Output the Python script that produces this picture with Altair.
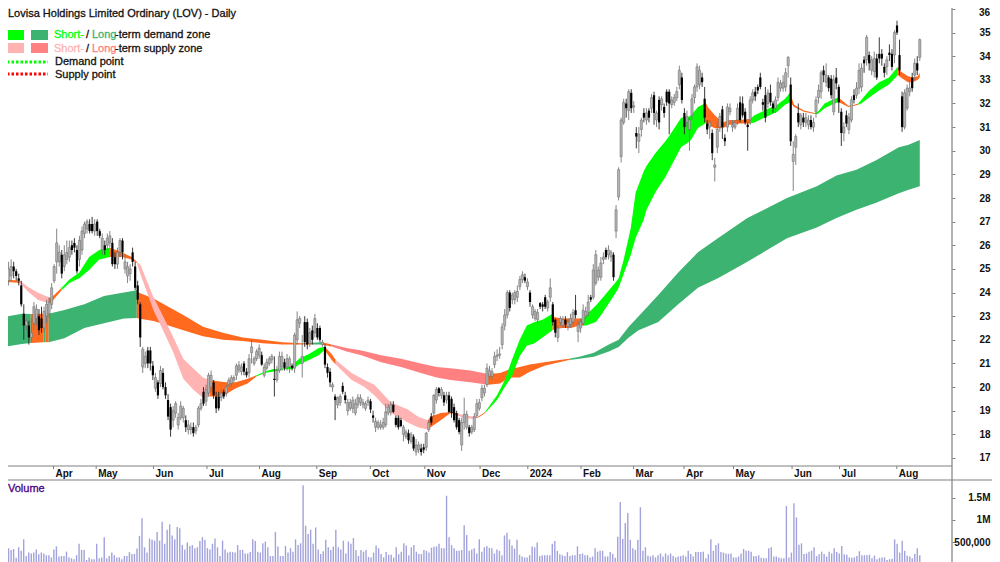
import altair as alt
import pandas as pd

# ---------- price bars: (open, close, low, high) ----------
bars_mar23 = [(24.0,24.5,23.7,24.9),(24.5,25.0,24.3,25.3),(24.7,25.1,24.5,25.4),(25.1,24.9,24.6,25.3),(24.9,24.7,24.5,25.0),
(24.6,24.5,24.3,24.8),(24.3,23.5,23.4,24.5),(23.1,22.6,22.0,23.5),(22.6,22.8,22.4,22.9),(22.6,22.1,21.8,22.8),
(22.1,22.3,21.9,22.9),(22.7,23.4,22.4,23.6),(22.9,23.3,22.6,23.5),(23.0,22.4,22.2,23.3),(22.9,22.5,22.3,23.4),
(22.5,23.2,22.3,23.4),(23.0,23.5,22.7,23.7),(23.1,23.6,22.9,23.8),(23.5,24.2,23.3,24.4),(24.5,25.1,24.4,25.2)]
bars_apr23 = [(25.3,26.1,24.8,26.7),(25.3,25.7,25.1,26.0),(25.6,24.8,24.6,25.8),(25.1,25.6,24.9,26.0),(25.4,25.7,25.2,26.2),
(25.5,25.9,25.3,26.2),(26.0,25.8,25.6,26.2),(26.1,25.9,25.7,26.3),(25.8,24.9,24.8,26.0),(25.4,26.2,25.1,26.4),
(25.8,26.6,25.6,26.8),(26.5,26.9,26.3,27.0),(26.7,27.0,26.5,27.1),(26.9,26.6,26.5,27.1),(26.9,26.6,26.5,27.2)]
bars_may23 = [(26.6,26.9,26.4,27.1),(27.0,26.6,26.4,27.1),(26.6,26.4,26.3,26.7),(25.8,26.3,25.6,26.5),(26.0,25.8,25.6,26.2),
(26.0,26.3,25.8,26.5),(26.1,26.4,25.9,26.6),(26.1,25.2,25.1,26.3),(25.5,25.2,25.0,25.7),(25.2,25.7,25.0,25.9),
(25.7,26.2,25.5,26.3),(26.2,25.7,25.4,26.3),(25.0,25.3,24.8,25.6),(24.7,25.1,24.4,25.3),(24.8,25.0,24.5,25.2),
(25.7,25.3,25.1,25.9),(25.1,24.2,24.1,25.3),(24.3,23.7,23.5,24.5),(23.5,22.1,21.7,23.6),(20.85,21.6,20.6,21.7),
(21.0,21.3,20.8,21.5),(21.55,21.0,20.8,21.7),(21.55,21.0,20.7,21.7),(20.9,20.5,20.3,21.1),(19.95,20.4,19.8,20.6)]
bars_jun23 = [(20.2,19.65,19.5,20.3),(20.15,20.7,20.0,20.9),(20.6,20.0,19.9,20.8),(20.0,19.65,19.5,20.2),(19.45,18.75,18.6,19.7),
(19.15,18.2,17.9,19.3),(18.6,19.0,18.3,19.2),(18.9,19.3,18.7,19.4),(18.4,18.7,18.2,18.9),(18.7,19.2,18.6,19.4),
(18.7,19.1,18.5,19.2),(18.6,18.3,18.1,18.8),(18.2,18.4,18.0,18.6),(18.2,18.3,18.0,18.5),(18.3,18.05,17.9,18.5),
(18.15,18.3,18.0,18.4),(18.4,19.1,18.3,19.2),(19.1,19.3,19.0,19.5),(19.8,19.3,19.2,20.0),(19.4,19.9,19.2,20.1),
(19.75,20.5,19.6,20.6),(20.0,20.5,19.8,20.7)]
bars_jul23 = [(20.2,19.65,19.5,20.3),(19.6,19.1,18.9,19.8),(19.6,19.1,19.0,19.8),(19.55,19.75,19.4,19.9),(19.8,19.6,19.5,19.9),
(19.75,20.0,19.6,20.1),(20.1,20.3,20.0,20.4),(20.15,20.4,20.0,20.5),(20.3,20.4,20.2,20.5),(20.5,20.9,20.3,21.0),
(20.72,20.93,20.6,21.1),(20.65,20.85,20.5,21.0),(21.0,20.65,20.5,21.1),(20.65,20.5,20.4,20.8),(20.6,21.2,20.4,21.4),
(21.45,21.7,21.0,22.0),(21.0,21.2,20.9,21.3),(21.2,21.5,21.1,21.6),(21.35,21.65,21.2,21.8),(21.35,20.95,20.9,21.5),(20.5,20.85,20.4,21.0)]
bars_aug23 = [(20.8,21.05,20.7,21.2),(21.0,21.2,20.9,21.3),(21.15,21.3,21.0,21.4),(20.35,20.3,19.6,21.3),(20.3,20.7,20.2,20.9),
(20.7,21.3,20.6,21.5),(20.85,21.3,20.7,21.5),(21.05,20.8,20.7,21.2),(20.85,21.2,20.7,21.4),(20.85,21.2,20.6,21.3),
(20.9,20.8,20.7,21.0),(20.8,22.2,20.6,22.3),(22.0,22.85,21.8,23.2),(22.7,22.9,22.5,23.0),(21.0,21.3,20.4,22.2),
(22.75,21.9,21.7,23.0),(22.75,21.8,21.6,22.9),(21.85,22.3,21.7,22.5),(22.4,22.0,21.8,22.6),(22.3,22.9,22.1,23.1),
(22.5,22.1,22.0,22.7),(22.5,22.0,21.9,22.6),(21.8,21.9,21.7,22.0)]
bars_sep23 = [(21.7,20.95,20.8,21.8),(20.85,20.6,20.4,21.0),(20.65,20.2,20.0,20.8),(20.0,20.1,19.8,20.2),(19.6,19.45,18.6,19.7),
(19.25,19.55,19.1,19.6),(19.35,19.6,19.2,19.7),(20.05,19.8,19.7,20.2),(19.65,19.45,19.3,19.8),(19.0,19.35,18.8,19.5),
(19.1,19.35,19.0,19.5),(19.1,19.45,18.9,19.6),(18.9,19.3,18.8,19.5),(19.25,19.55,19.1,19.7),(19.35,19.55,19.2,19.7),
(19.25,19.35,19.1,19.5),(19.1,19.3,19.0,19.4),(19.35,19.45,19.2,19.6),(19.4,19.05,18.9,19.5),(18.8,18.7,18.5,19.0),(18.3,18.55,18.1,18.7)]
bars_oct23 = [(18.3,18.5,18.2,18.6),(18.3,18.4,18.2,18.6),(18.3,18.5,18.2,18.7),(18.4,18.95,18.3,19.3),(18.9,19.15,18.8,19.3),
(18.95,19.25,18.8,19.4),(19.25,18.95,18.9,19.4),(18.7,18.4,18.3,18.8),(18.7,18.3,18.2,18.8),(18.6,18.35,18.3,18.7),
(18.0,18.3,17.7,18.4),(17.9,18.1,17.8,18.2),(18.05,17.75,17.6,18.2),(17.7,18.0,17.6,18.1),(17.9,17.4,17.3,18.0),
(17.25,17.55,17.1,17.8),(17.35,17.55,17.2,17.7),(17.4,17.25,17.1,17.6),(17.45,17.35,17.2,17.6),(17.45,18.05,17.3,18.1),
(18.2,18.5,18.1,18.6),(18.75,18.5,18.4,18.9)]
bars_nov23 = [(18.9,19.65,18.7,19.7),(19.45,19.9,19.3,20.0),(19.95,19.75,19.6,20.0),(19.65,19.9,19.5,20.0),(19.65,19.35,19.2,19.8),
(19.45,19.65,19.3,19.8),(19.65,18.95,18.9,19.8),(19.5,18.9,18.7,19.6),(19.15,18.6,18.5,19.3),(18.9,18.3,18.2,19.0),
(18.6,18.1,18.0,18.7),(17.55,18.5,17.3,18.7),(18.5,18.85,18.2,19.55),(18.3,18.85,18.2,19.0),(18.3,18.05,17.9,18.4),
(18.1,18.3,18.0,18.4),(18.2,18.75,18.1,18.9),(18.8,19.3,18.7,19.5),(19.1,19.35,19.0,19.5),(19.55,19.95,19.4,20.1),
(19.75,19.95,19.6,20.1),(20.1,20.8,20.0,21.0)]
bars_dec23 = [(20.45,20.7,20.3,20.9),(20.45,20.65,20.3,20.8),(20.95,21.3,20.8,21.5),(21.3,21.35,21.1,21.6),(21.35,21.4,21.2,21.7),
(21.8,22.55,21.6,22.7),(22.6,23.05,22.4,23.3),(23.05,24.0,22.9,24.1),(24.0,23.35,23.2,24.1),(23.7,23.9,23.5,24.0),
(23.7,24.0,23.5,24.1),(23.8,24.05,23.6,24.3),(24.25,24.55,24.1,24.7),(24.55,24.75,24.4,24.9),(24.65,24.5,24.4,24.8),
(24.25,24.45,24.1,24.6),(24.0,23.6,23.4,24.1),(23.05,23.4,22.9,23.5),(22.9,23.2,22.8,23.3)]
bars_jan24 = [(22.85,23.15,22.7,23.3),(23.55,23.4,23.3,23.6),(23.5,23.4,23.2,23.6),(23.8,23.4,23.3,23.9),(23.35,23.6,23.2,23.7),
(23.8,24.2,23.6,24.6),(23.5,22.75,22.6,23.6),(22.85,22.3,22.1,22.9),(22.1,22.5,21.9,22.6),(22.75,22.9,22.6,23.0),
(22.6,22.85,22.5,23.0),(22.85,22.65,22.5,23.0),(22.55,22.75,22.4,22.9),(22.65,22.9,22.5,23.1),(22.75,23.15,22.6,23.3),
(23.25,23.05,22.9,23.9),(22.35,22.65,21.9,22.8),(22.5,22.75,22.3,22.9),(22.7,23.25,22.6,23.5),(23.0,23.2,22.9,23.4),(23.15,23.6,23.0,23.9)]
bars_feb24 = [(23.8,23.7,23.6,23.9),(23.8,24.95,23.7,25.2),(24.4,25.6,24.3,25.8),(24.65,24.95,24.5,25.1),(24.65,25.25,24.5,25.5),
(25.4,25.5,25.2,25.7),(25.8,25.5,25.4,25.9),(25.6,25.8,25.4,26.0),(25.5,25.7,25.3,25.8),(25.6,24.65,24.5,25.7),
(26.6,27.5,26.3,27.7),(28.05,29.2,27.9,29.3),(29.75,31.3,29.5,31.4),(31.2,32.05,31.1,32.2),(32.0,31.8,31.4,32.2),
(31.7,32.5,31.3,32.6),(32.45,31.8,31.6,32.6),(31.85,31.9,31.6,32.1),(30.75,30.6,30.1,31.0),(30.4,30.7,29.9,31.0)]
bars_mar24 = [(30.9,31.3,30.6,31.4),(31.6,31.4,31.2,31.8),(31.3,31.6,31.1,31.8),(31.7,31.4,31.2,31.8),(31.8,32.25,31.6,32.4),
(32.35,31.6,31.1,32.5),(31.3,31.6,31.0,31.7),(32.15,31.2,30.9,32.3),(31.95,32.2,31.7,32.3),(31.85,31.6,31.4,32.0),
(32.5,32.05,31.9,32.6),(32.5,32.0,30.7,32.6),(31.95,32.15,31.8,32.3),(32.05,32.25,31.9,32.4),(32.25,32.5,32.1,32.7),
(32.8,33.4,32.6,33.6),(33.1,32.15,32.0,33.3),(31.6,31.0,30.7,31.8),(31.2,31.45,31.0,31.7),(30.9,31.3,30.0,31.4)]
bars_apr24 = [(31.5,32.2,31.3,32.4),(32.25,32.7,32.0,32.8),(32.7,33.55,32.5,33.7),(32.8,33.4,32.6,33.6),(33.1,32.9,32.7,33.3),
(32.2,31.4,31.2,32.7),(31.15,30.9,30.7,31.3),(31.0,31.2,30.5,31.3),(30.75,29.9,29.6,30.9),(29.3,29.4,28.7,29.7),
(30.15,30.9,29.9,31.2),(31.0,31.45,30.8,31.6),(31.75,31.0,30.5,31.9),(30.55,30.4,30.2,30.7),(31.0,31.85,30.8,32.0),
(31.65,31.8,31.5,32.0),(31.0,31.1,30.8,31.3),(31.0,31.2,30.9,31.3),(31.3,31.8,31.1,32.0),(32.05,31.3,31.2,32.3)]
bars_may24 = [(32.0,31.5,31.4,32.3),(31.65,31.2,31.1,31.8),(31.1,31.0,30.0,31.2),(31.3,32.15,31.1,32.3),(32.15,32.45,32.0,32.6),
(32.5,32.3,32.1,32.7),(32.7,32.55,32.4,32.8),(33.1,32.7,32.6,33.3),(32.05,31.95,31.7,32.2),(32.35,31.4,31.2,32.7),
(32.0,32.45,31.8,32.6),(32.45,32.05,31.9,32.8),(32.0,31.8,31.6,32.1),(31.8,32.15,31.6,32.3),(32.25,32.9,32.1,33.1),
(32.65,32.85,32.5,33.0),(32.65,32.9,32.5,33.2),(32.7,33.3,32.5,33.5),(33.6,33.95,33.1,34.0),(32.8,30.4,30.2,33.1),
(29.55,29.85,28.3,30.4),(30.15,30.6,29.4,30.7)]
bars_jun24 = [(31.6,31.2,31.0,32.0),(31.1,31.5,30.9,31.6),(31.4,31.2,31.0,31.6),(31.2,31.4,31.0,31.6),(31.1,31.3,30.9,31.5),
(31.3,31.0,30.9,31.5),(31.0,31.2,30.8,31.4),(31.65,32.15,31.4,32.3),(32.25,32.55,32.0,32.8),(32.5,33.3,32.2,33.4),
(33.4,33.2,32.9,33.6),(32.9,33.2,32.7,33.7),(33.1,32.65,32.5,33.2),(33.05,32.35,32.2,33.2),(31.65,33.0,31.5,33.2),
(33.1,32.85,32.6,33.5),(32.7,32.05,31.6,32.8),(31.65,30.75,30.2,31.8),(30.75,31.0,30.4,31.2)]
bars_jul24 = [(31.5,31.15,31.0,31.7),(30.9,31.4,30.7,31.6),(31.3,32.15,31.2,32.3),(32.35,32.15,32.0,32.6),(32.35,32.65,32.2,32.9),
(32.65,33.4,32.4,33.7),(32.7,33.5,32.5,33.7),(33.85,33.7,33.3,34.0),(33.85,34.8,33.6,34.9),(34.05,33.7,33.4,34.2),
(33.4,33.85,33.2,34.0),(33.35,33.9,33.1,34.2),(33.9,33.1,33.0,34.1),(34.1,33.9,33.7,34.8),(34.1,33.9,33.6,34.3),
(33.55,33.3,33.1,33.7),(33.55,33.85,33.2,34.0),(34.15,34.05,33.8,34.5),(34.1,33.55,33.4,34.3),(34.05,35.0,33.7,35.1),
(35.3,35.0,34.9,35.5),(34.05,33.4,33.2,34.7)]
bars_aug24 = [(32.3,31.0,30.8,32.5),(31.0,32.45,30.9,32.6),(31.8,32.65,31.7,32.8),(32.5,32.65,32.3,33.0),(33.1,32.65,32.5,33.3),
(33.2,33.7,33.0,33.9),(33.7,33.4,33.2,34.0),(33.95,34.7,33.8,34.75)]

# ---------- volume, thousands of shares ----------
vol_2023a = [130,360,320,340,140,380,300,560,180,260,240,260,330,220,260,240,200,200,150,330,400,170,180,180,280,150,130,110,200,460,320,320,90,150,110,110,460,130,150,610,130,180,260,200,150,150,110,180,180,270,230,230,350,640,1040,380,260,580,550,530,730,530,960,460,780,900,650,560,840,810]
vol_2023b = [430,330,490,410,430,360,380,520,610,550,360,330,460,580,380,180,530,330,260,280,270,260,430,320,320,240,240,270,560,520,280,260,470,510,380,180,180,730,400,180,180,410,260,360,280,560,430,470,1790,870,680,780,460,830,330,230,290,550,380,320,400,780,380,330]
vol_2023c = [530,240,510,460,590,320,180,320,280,320,160,150,260,420,360,230,150,270,210,210,150,380,220,280,470,420,200,380,430,280,230,230,320,300,260,370,390,400,460,360,360,1550,610,430,360,300,300,320,880,660,300,330,360,240,560,280,380,410,370,360,240,330,300,200]
vol_2024a = [650,710,560,420,350,550,210,170,150,150,200,400,380,490,180,200,200,200,200,460,520,300,220,200,180,270,180,200,200,400,230,240,200,200,150,170,360,280,300,300,170,170,270,230,140,620,1410,570,930,1160,550,360,320,550,1290,300,380,190,170,200,150,200,240,170,240,200]
vol_2024b = [240,180,150,170,180,200,170,300,230,170,270,270,270,280,130,220,560,300,430,470,270,260,240,230,240,150,150,170,240,340,300,300,280,180,180,200,140,130,130,360,380,170,170,150,130,130,1320,150,260,1380,1060,440,470,230,240,280,300,380,180,220,280,230,170,280,240,360,270,240,410,220,210,150,140,150,180,290,200,200,200,210,130,190,110,140,150,150,90,110,120,560,460,260,530,300,190,170,130,230,360,200]

# ---------- zones: (bar, upper, lower) ----------
long_green_1 = [(0,22.98,21.71),(6.3,23.1,21.82),(9.8,23.09,21.86)]
long_orange_1 = [(9.8,23.09,21.86),(14.9,23.1,21.9)]
long_green_2 = [(14.9,23.1,21.9),(15.7,23.1,21.9)]
long_orange_2 = [(15.7,23.1,21.9),(16.9,23.1,21.9)]
long_green_3 = [(16.9,23.1,21.9),(23.1,23.26,22.07),(31,23.5,22.5),(38.8,23.85,22.7),(46.7,24.0,22.9),(51.8,24.1,22.92)]
long_orange_3 = [(51.8,24.1,22.92),(52.5,24.0,22.9),(58.4,23.75,22.8),(64.3,23.4,22.6),(70.2,23.05,22.4),(78,22.55,22.15),(85.9,22.3,22.0),(93.7,22.1,21.95),(101.6,22.0,21.85),(109.4,21.9,21.8),(117.3,21.85,21.8),(121.2,21.88,21.8)]
long_green_4 = [(121.2,21.88,21.8),(125.1,21.9,21.8)]
long_orange_4 = [(125.1,21.9,21.8),(129,21.8,21.72)]
long_pink_1 = [(129,21.8,21.72),(134.9,21.65,21.5),(140.8,21.55,21.35),(148.6,21.35,21.05),(156.5,21.2,20.85),(164.3,21.0,20.6),(170.6,20.85,20.4),(176.1,20.8,20.3),(183.9,20.7,20.2),(191,20.55,20.1)]
long_orange_5 = [(191,20.55,20.1),(195.7,20.6,20.15),(199.6,20.75,20.4),(203.5,20.85,20.4),(207.5,20.95,20.65),(213.3,21.05,20.9),(219.2,21.15,21.05),(223.1,21.2,21.15)]
long_green_5 = [(223.1,21.2,21.15),(227.1,21.28,21.2),(232.9,21.45,21.28),(238.8,21.8,21.5),(242.7,22.0,21.7),(246.7,22.55,22.1),(250.6,23.0,22.4),(258.4,23.9,22.75),(266.3,24.85,23.5),(274.1,25.7,24.2),(282,26.3,24.6),(293.7,27.15,25.3),(309.4,28.0,26.3),(321.2,28.5,26.75),(329,28.95,27.15),(336.9,29.2,27.5),(344.7,29.6,27.8),(353.7,30.15,28.2),(357.6,30.25,28.35),(362,30.45,28.5)]
long_segments = [("dg",long_green_1),("or",long_orange_1),("dg",long_green_2),("or",long_orange_2),("dg",long_green_3),("or",long_orange_3),("dg",long_green_4),("or",long_orange_4),("rp",long_pink_1),("or",long_orange_5),("dg",long_green_5)]

short_a = [(0,24.55,24.45),(5.5,24.5,24.4)]
short_b = [(5.5,24.5,24.4),(8.6,24.25,24.05),(12.5,24.0,23.7),(16.9,23.8,23.55)]
short_c = [(16.9,23.8,23.55),(17.6,23.75,23.55),(22,24.2,24.1)]
short_d = [(22,24.2,24.1),(25.1,24.55,24.4),(29,24.85,24.6),(32.9,25.5,24.95),(36.9,25.8,25.4),(41.2,25.9,25.5)]
short_e = [(41.2,25.9,25.5),(45.9,25.7,25.5),(49.8,25.5,25.4),(51.8,25.3,25.25)]
short_f = [(51.8,25.3,25.25),(53.3,25.15,24.75),(58.4,23.8,23.25),(62.4,22.95,22.35),(66.3,22.1,21.45),(70.2,21.2,20.35),(74.1,20.8,19.9),(78,20.4,19.55),(80.8,20.3,19.6)]
short_g = [(80.8,20.3,19.6),(83.9,20.25,19.6),(87.1,20.2,19.7),(91,20.2,19.95),(95.7,20.35,20.15),(99.2,20.5,20.45)]
short_h = [(99.2,20.5,20.45),(102.4,20.65,20.6),(105.5,20.75,20.65),(110.2,20.8,20.75),(113.3,20.9,20.75),(116.1,21.2,20.95),(120,21.4,21.15),(123.9,21.65,21.35),(125.9,21.7,21.55)]
short_i = [(125.9,21.7,21.55),(126.3,21.7,21.55),(129,21.4,21.15),(130.6,21.15,20.95)]
short_j = [(130.6,21.15,20.95),(136.9,20.6,20.3),(142,20.3,20.0),(145.9,20.1,19.65),(152.5,19.35,18.9),(159.2,19.05,18.5),(163.1,18.75,18.3),(167.1,18.6,18.2)]
short_k = [(167.1,18.6,18.2),(168.2,18.75,18.3),(172.2,18.9,18.6),(176.1,18.95,18.9),(178.8,18.9,18.8)]
short_l = [(178.8,18.9,18.8),(181.2,18.8,18.7),(185.1,18.75,18.65),(187.1,18.75,18.7)]
short_m = [(187.1,18.75,18.7),(189.8,18.95,18.9)]
short_n = [(189.8,18.95,18.9),(194.5,19.65,19.45),(197.6,20.3,20.0),(200.4,21.15,20.45),(203.5,22.0,21.3),(206.3,22.6,21.75),(209.4,22.75,21.85),(212.5,22.85,22.1),(216.5,23.1,22.4)]
short_o = [(216.5,23.1,22.4),(217.3,22.95,22.45),(220.4,22.9,22.5),(223.9,22.9,22.5),(227.1,22.9,22.6),(228.6,22.9,22.6)]
short_p = [(228.6,22.9,22.6),(229.8,23.05,22.6),(233.7,23.45,22.75),(236.1,23.75,23.1),(241.6,24.45,24.0),(242.7,24.6,24.2),(244.7,25.4,24.8),(247.5,26.73,25.59),(249.4,28.21,26.31),(252.5,29.1,27.05),(253.7,29.35,27.49),(257.3,29.9,28.25),(261.2,30.4,28.89),(263.5,30.75,29.35),(267.5,31.4,30.16),(270.2,31.43,30.35),(271.4,31.5,30.46),(274.1,31.85,30.96),(277.3,32.02,31.17)]
short_q = [(277.3,32.02,31.17),(278,31.85,31.1),(280.8,31.5,30.95),(283.9,31.2,30.95),(286.7,31.3,31.1),(290.6,31.3,31.15),(294.9,31.35,31.15)]
short_r = [(294.9,31.35,31.15),(296.5,31.5,31.2),(300.4,31.7,31.4),(305.5,31.95,31.65),(308.6,32.2,31.95),(310.6,32.45,32.05)]
short_s = [(310.6,32.45,32.05),(312.2,31.95,31.85),(316.1,31.7,31.65),(320.4,31.6,31.55)]
short_t = [(320.4,31.6,31.55),(321.6,31.65,31.55),(324.3,32.0,31.8),(327.1,32.15,31.95),(329.8,32.25,32.05)]
short_u = [(329.8,32.25,32.05),(331,32.15,32.0),(333.7,31.9,31.85),(336.1,31.95,31.9),(337.6,32.0,31.95)]
short_v = [(337.6,32.0,31.95),(338.8,32.15,32.0),(342,32.55,32.25),(345.9,32.9,32.55),(349.8,33.1,32.8),(353.3,33.55,33.2)]
short_w = [(353.3,33.55,33.2),(354.5,33.35,33.1),(357.3,33.15,32.9),(359.2,33.1,32.9),(361.2,33.15,33.0),(362,33.3,33.1)]
short_segments = [("or",short_a),("lp",short_b),("or",short_c),("gr",short_d),("or",short_e),("lp",short_f),("or",short_g),("gr",short_h),("or",short_i),("lp",short_j),("or",short_k),("lp",short_l),("or",short_m),("gr",short_n),("or",short_o),("gr",short_p),("or",short_q),("gr",short_r),("or",short_s),("gr",short_t),("or",short_u),("gr",short_v),("or",short_w)]

# ---------- axes ----------
month_labels = ["Apr","May","Jun","Jul","Aug","Sep","Oct","Nov","Dec","2024","Feb","Mar","Apr","May","Jun","Jul","Aug"]
month_bars = [18.8,35.7,58.4,79.6,100.4,123.1,144.3,165.9,187.8,206.7,227.8,248.6,268.6,288.2,311.4,330.2,352.9]
price_ticks = list(range(17, 37))
volume_ticks = [500000, 1000000, 1500000]

# ---------- frames ----------
all_bars = (bars_mar23 + bars_apr23 + bars_may23 + bars_jun23 + bars_jul23 + bars_aug23 + bars_sep23 + bars_oct23
            + bars_nov23 + bars_dec23 + bars_jan24 + bars_feb24 + bars_mar24 + bars_apr24 + bars_may24 + bars_jun24
            + bars_jul24 + bars_aug24)
LAST_BAR = 362.0
candles = pd.DataFrame(all_bars, columns=["o", "c", "l", "h"])
candles["bar"] = [i * LAST_BAR / (len(all_bars) - 1) for i in range(len(all_bars))]
up = candles[candles.c >= candles.o]
down = candles[candles.c < candles.o]

all_vol = vol_2023a + vol_2023b + vol_2023c + vol_2024a + vol_2024b
volume = pd.DataFrame({"v": [x * 1000 for x in all_vol],
                       "bar": [i * LAST_BAR / (len(all_vol) - 1) for i in range(len(all_vol))]})


def zone_frame(segments):
    rows = []
    for sid, (kind, pts) in enumerate(segments):
        for b, t, u in pts:
            rows.append({"seg": sid, "kind": kind, "bar": b, "top": t, "bot": u})
    return pd.DataFrame(rows)


months = pd.DataFrame({"bar": month_bars, "label": month_labels})

# ---------- scales ----------
FONT = "Liberation Sans"
GREY = "#808080"
x_s = alt.Scale(domain=[2.745, 388.63], nice=False, zero=False)
y_s = alt.Scale(domain=[16.66, 36.04], range=[458, 0], nice=False, zero=False)
v_s = alt.Scale(domain=[45500, 1909000], range=[554, 472], nice=False, zero=False)
zone_colors = alt.Scale(domain=["dg", "gr", "or", "lp", "rp"],
                        range=["#3cb371", "#00ff00", "#ff6a1f", "#ffb3b3", "#ff8080"])
X = alt.X("bar:Q", scale=x_s, axis=None)


def Yp(field, axis=None):
    return alt.Y(field, scale=y_s, axis=axis)


def zone_layer(frame):
    return alt.Chart(frame).mark_area(orient="vertical", strokeWidth=0, interpolate="linear").encode(
        x=X, y=Yp("top:Q"), y2="bot:Q",
        color=alt.Color("kind:N", scale=zone_colors, legend=None),
        detail="seg:N")


long_layer = zone_layer(zone_frame(long_segments))
short_layer = zone_layer(zone_frame(short_segments))

price_axis = alt.Axis(orient="right", offset=-40, values=price_ticks, domain=False, grid=False, title=None,
                      tickColor=GREY, tickSize=3, labelAlign="right", labelPadding=35, labelBaseline="middle",
                      labelFont=FONT, labelFontSize=10, labelFontWeight="bold", labelColor="#111111",
                      labelOverlap=False, labelBound=False, labelFlush=False,
                      labelExpr="datum.value==36 ? '' : datum.label")
vol_axis = alt.Axis(orient="right", offset=-40, values=volume_ticks, domain=False, grid=False, title=None,
                    tickColor=GREY, tickSize=3, labelAlign="right", labelPadding=35, labelBaseline="middle",
                    labelFont=FONT, labelFontSize=10, labelFontWeight="bold", labelColor="#111111",
                    labelOverlap=False,
                    labelExpr="datum.value>=1000000 ? (datum.value/1000000)+'M' : format(datum.value, ',')")

wick_up = alt.Chart(up).mark_rule(color="#777777", strokeWidth=0.9).encode(x=X, y=Yp("l:Q", price_axis), y2="h:Q")
wick_dn = alt.Chart(down).mark_rule(color="#222222", strokeWidth=0.9).encode(x=X, y=Yp("l:Q"), y2="h:Q")
body_up = alt.Chart(up).mark_bar(size=2.2, orient="vertical", color="#b4b4b4", stroke="#666666", strokeWidth=0.5).encode(
    x=X, y=Yp("o:Q"), y2="c:Q")
body_dn = alt.Chart(down).mark_bar(size=2.2, orient="vertical", color="#000000").encode(x=X, y=Yp("o:Q"), y2="c:Q")

vol_layer = alt.Chart(volume).mark_rule(color="#a2a2dc", strokeWidth=1.4).encode(
    x=X, y=alt.Y("v:Q", scale=v_s, axis=vol_axis), y2=alt.value(554))

month_ticks = alt.Chart(months).mark_rule(color=GREY, strokeWidth=1).encode(x=X, y=alt.value(458), y2=alt.value(461))
month_text = alt.Chart(months).mark_text(align="left", baseline="middle", dx=2, font=FONT, fontSize=10,
                                         fontWeight="bold", color="#111111").encode(
    x=X, y=alt.value(465.5), text="label:N")

top_label = alt.Chart(pd.DataFrame({"t": ["36"]})).mark_text(
    align="right", baseline="middle", font=FONT, fontSize=10, fontWeight="bold", color="#111111").encode(
    x=alt.value(982), y=alt.value(5), text="t:N")

line_top = alt.Chart().mark_rule(color=GREY, strokeWidth=1.2).encode(x=alt.value(0), x2=alt.value(944), y=alt.value(458))
line_mid = alt.Chart().mark_rule(color=GREY, strokeWidth=1.2).encode(x=alt.value(0), x2=alt.value(984), y=alt.value(472))
line_v = alt.Chart().mark_rule(color=GREY, strokeWidth=1.2).encode(x=alt.value(944), y=alt.value(0), y2=alt.value(554))


def swatch(x0, x1, y0, y1, color):
    return alt.Chart().mark_rect(color=color).encode(
        x=alt.value(x0), x2=alt.value(x1), y=alt.value(y0), y2=alt.value(y1))


def label(text, x, y, color="#111111"):
    return alt.Chart(pd.DataFrame({"t": [text]})).mark_text(
        align="left", baseline="middle", font=FONT, fontSize=11, fontWeight="normal", color=color,
        stroke=color, strokeWidth=0.3).encode(
        x=alt.value(x), y=alt.value(y), text="t:N")


def dotted(y, color):
    return alt.Chart().mark_rule(color=color, strokeWidth=3, strokeDash=[2.5, 2]).encode(
        x=alt.value(-1), x2=alt.value(40), y=alt.value(y))


decor = [
    label("Lovisa Holdings Limited Ordinary (LOV) - Daily", 0, 6),
    swatch(-1, 16, 22, 32, "#00ff00"), swatch(23, 40, 22, 32, "#3cb371"),
    swatch(-1, 16, 35, 45, "#ffb3b3"), swatch(23, 40, 35, 45, "#ff8080"),
    label("Short-", 46, 27, "#00ff00"), label("/", 78, 27),
    label("Long", 84, 27, "#3cb371"), label("-term demand zone", 107, 27),
    label("Short-", 46, 41, "#ffb3b3"), label("/", 78, 41),
    label("Long", 84, 41, "#ff8080"), label("-term supply zone", 107, 41),
    dotted(54, "#00ff00"), dotted(66, "#ff0000"),
    label("Demand point", 47, 54), label("Supply point", 47, 67),
    label("Volume", 0, 481, "#4b0082"),
]

chart = alt.layer(
    long_layer, short_layer, wick_up, wick_dn, body_up, body_dn, vol_layer,
    month_ticks, month_text, top_label, line_top, line_mid, line_v, *decor
).resolve_scale(y="independent", color="independent").properties(
    width=984, height=554, padding=0, background="#ffffff",
    autosize=alt.AutoSizeParams(type="none")
).configure_view(stroke=None)

chart.save("out.html", embed_options={"renderer": "svg", "actions": False})
